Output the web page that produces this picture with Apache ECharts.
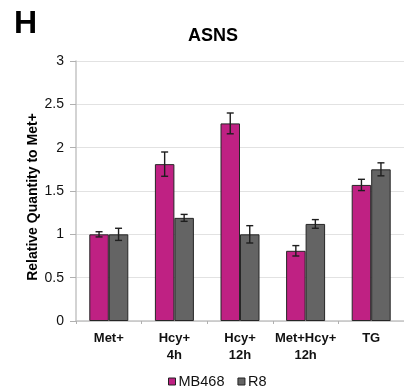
<!DOCTYPE html>
<html>
<head>
<meta charset="utf-8">
<script src="https://cdn.jsdelivr.net/npm/echarts@6/dist/echarts.min.js"></script>
<style>
  html, body { margin: 0; padding: 0; background: #fff; }
  #chart { width: 404px; height: 390px; }
</style>
</head>
<body>
<div id="chart"></div>
<script>
// ASNS expression, relative quantity to Met+
const categories = ['Met+', 'Hcy+\n4h', 'Hcy+\n12h', 'Met+Hcy+\n12h', 'TG'];
const seriesNames = ['MB468', 'R8'];
const mb468Values = [1.0, 1.81, 2.28, 0.81, 1.57];
const mb468Errors = [0.03, 0.14, 0.12, 0.06, 0.065];
const r8Values = [1.0, 1.19, 1.0, 1.12, 1.75];
const r8Errors = [0.07, 0.04, 0.10, 0.05, 0.075];
const yTicks = { min: 0, max: 3, interval: 0.5 };

const FONT = '"Liberation Sans", Arial, Helvetica, sans-serif';
const colors = ['#bf2183', '#646464'];
const BAR_W = 19.5;

function errorData(values, errors) {
  return values.map((v, i) => [i, v - errors[i], v + errors[i]]);
}

function errorSeries(values, errors, side) {
  return {
    type: 'custom',
    z: 10,
    silent: true,
    encode: { x: 0, y: [1, 2] },
    data: errorData(values, errors),
    renderItem: function (params, api) {
      const i = api.value(0);
      const lo = api.coord([i, api.value(1)]);
      const hi = api.coord([i, api.value(2)]);
      const x = lo[0] + side * BAR_W / 2;
      const cap = 3.5;
      const style = { stroke: '#1e1e1e', lineWidth: 1.4 };
      return {
        type: 'group',
        children: [
          { type: 'line', shape: { x1: x, y1: lo[1], x2: x, y2: hi[1] }, style },
          { type: 'line', shape: { x1: x - cap, y1: hi[1], x2: x + cap, y2: hi[1] }, style },
          { type: 'line', shape: { x1: x - cap, y1: lo[1], x2: x + cap, y2: lo[1] }, style }
        ]
      };
    }
  };
}

const chart = echarts.init(document.getElementById('chart'), null, { renderer: 'canvas' });

chart.setOption({
  animation: false,
  backgroundColor: '#fff',
  textStyle: { fontFamily: FONT },
  title: [
    {
      text: 'H', left: 9, top: 3,
      textStyle: { fontFamily: FONT, fontSize: 32, fontWeight: 'bold', color: '#000' }
    },
    {
      text: 'ASNS', left: 183, top: 22,
      textStyle: { fontFamily: FONT, fontSize: 18, fontWeight: 'bold', color: '#000' }
    }
  ],
  legend: {
    left: 163, top: 369,
    itemWidth: 7, itemHeight: 7, itemGap: 13,
    icon: 'rect',
    data: seriesNames,
    textStyle: { fontFamily: FONT, fontSize: 14.5, color: '#111', padding: [9, 0, 0, -2] },
    itemStyle: { borderColor: '#222', borderWidth: 1 }
  },
  grid: { left: 76, right: -4, top: 61, bottom: 69, containLabel: false },
  xAxis: {
    type: 'category',
    data: categories,
    axisLine: { lineStyle: { color: '#c4c4c4', width: 1.5 } },
    axisTick: { show: true, length: 3, lineStyle: { color: '#b0b0b0' } },
    axisLabel: {
      fontFamily: FONT, fontSize: 13, fontWeight: 'bold', color: '#111',
      margin: 9, lineHeight: 17, interval: 0
    }
  },
  yAxis: {
    type: 'value',
    min: yTicks.min, max: yTicks.max, interval: yTicks.interval,
    name: 'Relative Quantity to Met+',
    nameLocation: 'middle',
    nameRotate: 90,
    nameGap: 36,
    nameMoveOverlap: false,
    nameTextStyle: { fontFamily: FONT, fontSize: 14, fontWeight: 'bold', color: '#000', padding: [0, 12, 0, 0] },
    axisLine: { show: true, lineStyle: { color: '#c4c4c4', width: 1.5 } },
    axisTick: { show: true, length: 6, lineStyle: { color: '#b0b0b0' } },
    splitLine: { lineStyle: { color: '#e2e2e2', width: 1.2 } },
    axisLabel: { fontFamily: FONT, fontSize: 14, color: '#111', margin: 12 }
  },
  series: [
    {
      name: seriesNames[0], type: 'bar', data: mb468Values,
      barWidth: BAR_W, barGap: '0%',
      itemStyle: { color: colors[0], borderColor: '#262626', borderWidth: 1 }
    },
    {
      name: seriesNames[1], type: 'bar', data: r8Values,
      barWidth: BAR_W, barGap: '0%',
      itemStyle: { color: colors[1], borderColor: '#262626', borderWidth: 1 }
    },
    errorSeries(mb468Values, mb468Errors, -1),
    errorSeries(r8Values, r8Errors, 1)
  ]
});
</script>
</body>
</html>
